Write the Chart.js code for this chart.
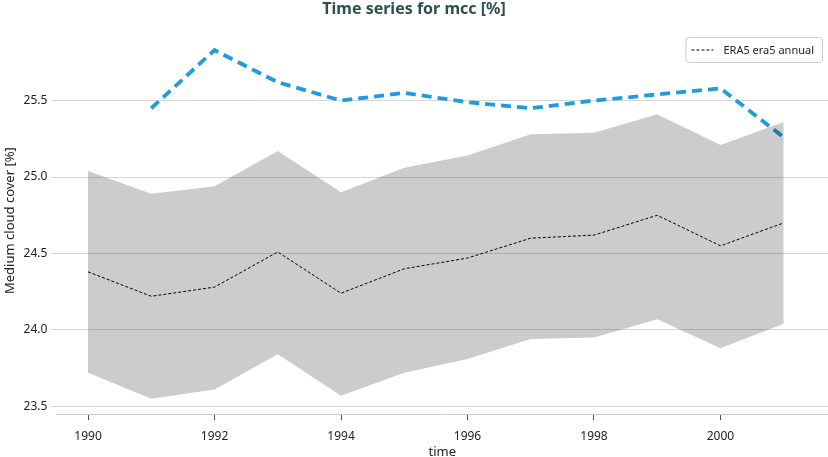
<!DOCTYPE html>
<html>
<head>
<meta charset="utf-8">
<script src="https://cdn.jsdelivr.net/npm/chart.js@4/dist/chart.umd.min.js"></script>
<style>
  html, body { margin: 0; padding: 0; background: #fff; }
  #wrap { width: 828px; height: 457px; }
</style>
</head>
<body>
<div id="wrap"><canvas id="myChart"></canvas></div>
<script>
const years = [1990, 1991, 1992, 1993, 1994, 1995, 1996, 1997, 1998, 1999, 2000, 2001];
const era5Mean = [24.38, 24.22, 24.28, 24.51, 24.24, 24.40, 24.47, 24.60, 24.62, 24.75, 24.55, 24.70];
const bandUpper = [25.04, 24.89, 24.94, 25.17, 24.90, 25.06, 25.14, 25.28, 25.29, 25.41, 25.21, 25.36];
const bandLower = [23.72, 23.55, 23.61, 23.84, 23.57, 23.72, 23.81, 23.94, 23.95, 24.07, 23.88, 24.04];
const blueYears = [1991, 1992, 1993, 1994, 1995, 1996, 1997, 1998, 1999, 2000, 2001];
const blueValues = [25.45, 25.83, 25.62, 25.50, 25.55, 25.49, 25.45, 25.50, 25.54, 25.58, 25.26];
const legendLabel = 'ERA5 era5 annual';

const pts = (xs, ys) => xs.map((x, i) => ({ x: x, y: ys[i] }));
const fontFamily = '"Noto Sans", "Open Sans", sans-serif';

// legend box drawn by hand (only one entry, with a frame)
const boxLegend = {
    id: 'boxLegend',
    afterDraw(chart) {
        const ctx = chart.ctx;
        const right = chart.chartArea.right - 6;
        ctx.save();
        ctx.font = '11px ' + fontFamily;
        const tw = ctx.measureText(legendLabel).width;
        const w = tw + 46, h = 25;
        const x = right - w, y = 37;
        ctx.fillStyle = 'rgba(255,255,255,0.85)';
        ctx.strokeStyle = '#cccccc';
        ctx.lineWidth = 1;
        ctx.beginPath();
        ctx.roundRect(x + 0.5, y + 0.5, w, h, 3);
        ctx.fill();
        ctx.stroke();
        ctx.strokeStyle = '#000';
        ctx.setLineDash([3, 2]);
        ctx.beginPath();
        ctx.moveTo(x + 6, y + h / 2 + 0.5);
        ctx.lineTo(x + 28, y + h / 2 + 0.5);
        ctx.stroke();
        ctx.setLineDash([]);
        ctx.fillStyle = '#222';
        ctx.textBaseline = 'middle';
        ctx.fillText(legendLabel, x + 38, y + h / 2 + 1);
        ctx.restore();
    }
};

const data = {
    datasets: [{
        label: 'upper',
        data: pts(years, bandUpper),
        borderWidth: 0,
        pointRadius: 0,
        backgroundColor: 'rgba(0,0,0,0.2)',
        fill: '+1',
    }, {
        label: 'lower',
        data: pts(years, bandLower),
        borderWidth: 0,
        pointRadius: 0,
        fill: false,
    }, {
        label: legendLabel,
        data: pts(years, era5Mean),
        borderColor: '#000',
        borderWidth: 1,
        borderDash: [3, 2],
        pointRadius: 0,
        fill: false,
    }, {
        label: 'model',
        data: pts(blueYears, blueValues),
        borderColor: '#1f9be0',
        borderWidth: 3.8,
        borderDash: [10, 6],
        pointRadius: 0,
        fill: false,
    }]
};

const config = {
    type: 'line',
    data: data,
    options: {
        responsive: true,
        maintainAspectRatio: false,
        animation: false,
        layout: { padding: { left: 0, right: 0, top: 0, bottom: 0 } },
        plugins: {
            legend: { display: false },
            tooltip: { enabled: false },
            title: {
                display: true,
                text: 'Time series for mcc [%]',
                color: '#2f4f4f',
                font: { family: fontFamily, size: 16, weight: 'bold' },
                padding: { top: 0, bottom: 8 }
            }
        },
        scales: {
            x: {
                type: 'linear',
                min: 1989.5,
                max: 2001.7,
                grid: { drawOnChartArea: false, drawTicks: true, tickLength: 6, color: '#555' },
                border: { display: true, color: '#cccccc', width: 1 },
                ticks: {
                    stepSize: 2,
                    includeBounds: false,
                    color: '#222',
                    font: { family: fontFamily, size: 12 },
                    padding: 9,
                    callback: (v) => String(v)
                },
                title: { display: true, text: 'time', color: '#222', font: { family: fontFamily, size: 13 }, padding: { top: -8, bottom: -3 } }
            },
            y: {
                min: 23.45,
                max: 25.98,
                grid: { color: 'rgba(0,0,0,0.16)', tickLength: 5 },
                border: { display: false },
                ticks: {
                    stepSize: 0.5,
                    includeBounds: false,
                    color: '#222',
                    font: { family: fontFamily, size: 12 },
                    padding: 4,
                    callback: (v) => v.toFixed(1)
                },
                title: { display: true, text: 'Medium cloud cover [%]', color: '#222', font: { family: fontFamily, size: 13 }, padding: 2 }
            }
        }
    },
    plugins: [boxLegend]
};

const myChart = new Chart(document.getElementById('myChart'), config);
</script>
</body>
</html>
